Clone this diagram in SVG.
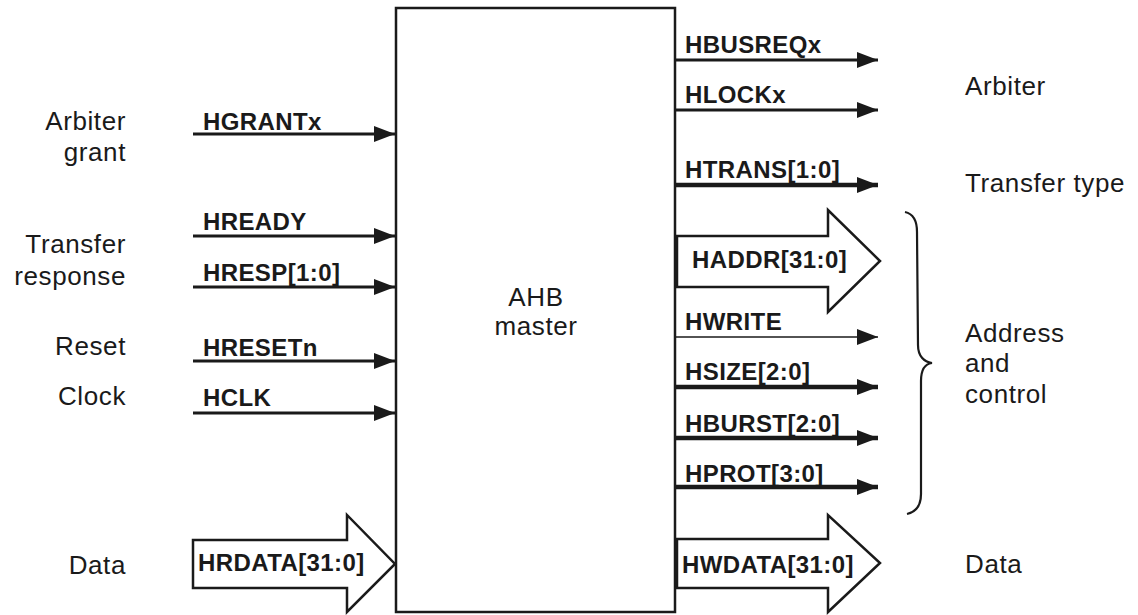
<svg xmlns="http://www.w3.org/2000/svg" width="1138" height="615" viewBox="0 0 1138 615">
<defs>
<style>
.sig{font-family:"Liberation Sans",Arial,sans-serif;font-weight:bold;font-size:24px;letter-spacing:0.4px;fill:#1a1a1a}
.lbl{font-family:"Liberation Sans",Arial,sans-serif;font-size:26px;letter-spacing:0.6px;fill:#1a1a1a}
.w{stroke:#1a1a1a;fill:none}
.thin{stroke-width:1.5}
.med{stroke-width:3}
.thick{stroke-width:4.5}
.bus{fill:#fff;stroke:#1a1a1a;stroke-width:2.5;stroke-linejoin:miter}
</style>
<marker id="ah" markerUnits="userSpaceOnUse" markerWidth="22" markerHeight="18" refX="21" refY="9" orient="auto">
<path d="M0,1 L21,9 L0,17 Z" fill="#1a1a1a"/>
</marker>
</defs>
<rect width="1138" height="615" fill="#fff"/>

<g id="master">
<rect x="396" y="8" width="279" height="604" fill="#fff" stroke="#1a1a1a" stroke-width="2.5"/>
<text class="lbl" x="536" y="306" text-anchor="middle">AHB</text>
<text class="lbl" x="536" y="335" text-anchor="middle">master</text>
</g>

<g id="connectors">
<line class="w med" x1="193" y1="134" x2="395" y2="134" marker-end="url(#ah)"/>
<line class="w med" x1="193" y1="236" x2="395" y2="236" marker-end="url(#ah)"/>
<line class="w med" x1="193" y1="287" x2="395" y2="287" marker-end="url(#ah)"/>
<line class="w med" x1="193" y1="361" x2="395" y2="361" marker-end="url(#ah)"/>
<line class="w med" x1="193" y1="413" x2="395" y2="413" marker-end="url(#ah)"/>
<line class="w med" x1="676" y1="60" x2="878" y2="60" marker-end="url(#ah)"/>
<line class="w med" x1="676" y1="110" x2="878" y2="110" marker-end="url(#ah)"/>
<line class="w thick" x1="676" y1="185" x2="878" y2="185" marker-end="url(#ah)"/>
<line class="w thin" x1="676" y1="337" x2="878" y2="337" marker-end="url(#ah)"/>
<line class="w thick" x1="676" y1="387" x2="878" y2="387" marker-end="url(#ah)"/>
<line class="w thick" x1="676" y1="438" x2="878" y2="438" marker-end="url(#ah)"/>
<line class="w thick" x1="676" y1="487" x2="878" y2="487" marker-end="url(#ah)"/>
<polygon class="bus" points="193,540 347,540 347,515 395,564 347,612 347,588 193,588"/>
<polygon class="bus" points="677,236 828,236 828,210 880,261 828,312 828,287 677,287"/>
<polygon class="bus" points="677,539 828,539 828,515 880,563 828,612 828,588 677,588"/>
</g>

<g id="signal-labels">
<text class="sig" x="203" y="130">HGRANTx</text>
<text class="sig" x="203" y="230">HREADY</text>
<text class="sig" x="203" y="281">HRESP[1:0]</text>
<text class="sig" x="203" y="356">HRESETn</text>
<text class="sig" x="203" y="406">HCLK</text>
<text class="sig" x="198" y="571">HRDATA[31:0]</text>
<text class="sig" x="685" y="53">HBUSREQx</text>
<text class="sig" x="685" y="103">HLOCKx</text>
<text class="sig" x="685" y="178">HTRANS[1:0]</text>
<text class="sig" x="692" y="268">HADDR[31:0]</text>
<text class="sig" x="685" y="330">HWRITE</text>
<text class="sig" x="685" y="380">HSIZE[2:0]</text>
<text class="sig" x="685" y="432">HBURST[2:0]</text>
<text class="sig" x="685" y="482">HPROT[3:0]</text>
<text class="sig" x="682" y="573">HWDATA[31:0]</text>
</g>

<g id="left-groups">
<text class="lbl" x="126" y="130" text-anchor="end">Arbiter</text>
<text class="lbl" x="126" y="161" text-anchor="end">grant</text>
<text class="lbl" x="126" y="253" text-anchor="end">Transfer</text>
<text class="lbl" x="126" y="285" text-anchor="end">response</text>
<text class="lbl" x="126" y="355" text-anchor="end">Reset</text>
<text class="lbl" x="126" y="405" text-anchor="end">Clock</text>
<text class="lbl" x="126" y="574" text-anchor="end">Data</text>
</g>

<g id="right-groups">
<text class="lbl" x="965" y="95">Arbiter</text>
<text class="lbl" x="965" y="192">Transfer type</text>
<text class="lbl" x="965" y="342">Address</text>
<text class="lbl" x="965" y="372">and</text>
<text class="lbl" x="965" y="403">control</text>
<text class="lbl" x="965" y="573">Data</text>
</g>

<g id="brace">
<path d="M905,212 C914,214 917,222 917,232 L918,345 C918,356 924,362 932,363 C924,364 921,370 921,381 L921,494 C921,505 916,512 907,514" fill="none" stroke="#1a1a1a" stroke-width="2.2"/>
</g>
</svg>
